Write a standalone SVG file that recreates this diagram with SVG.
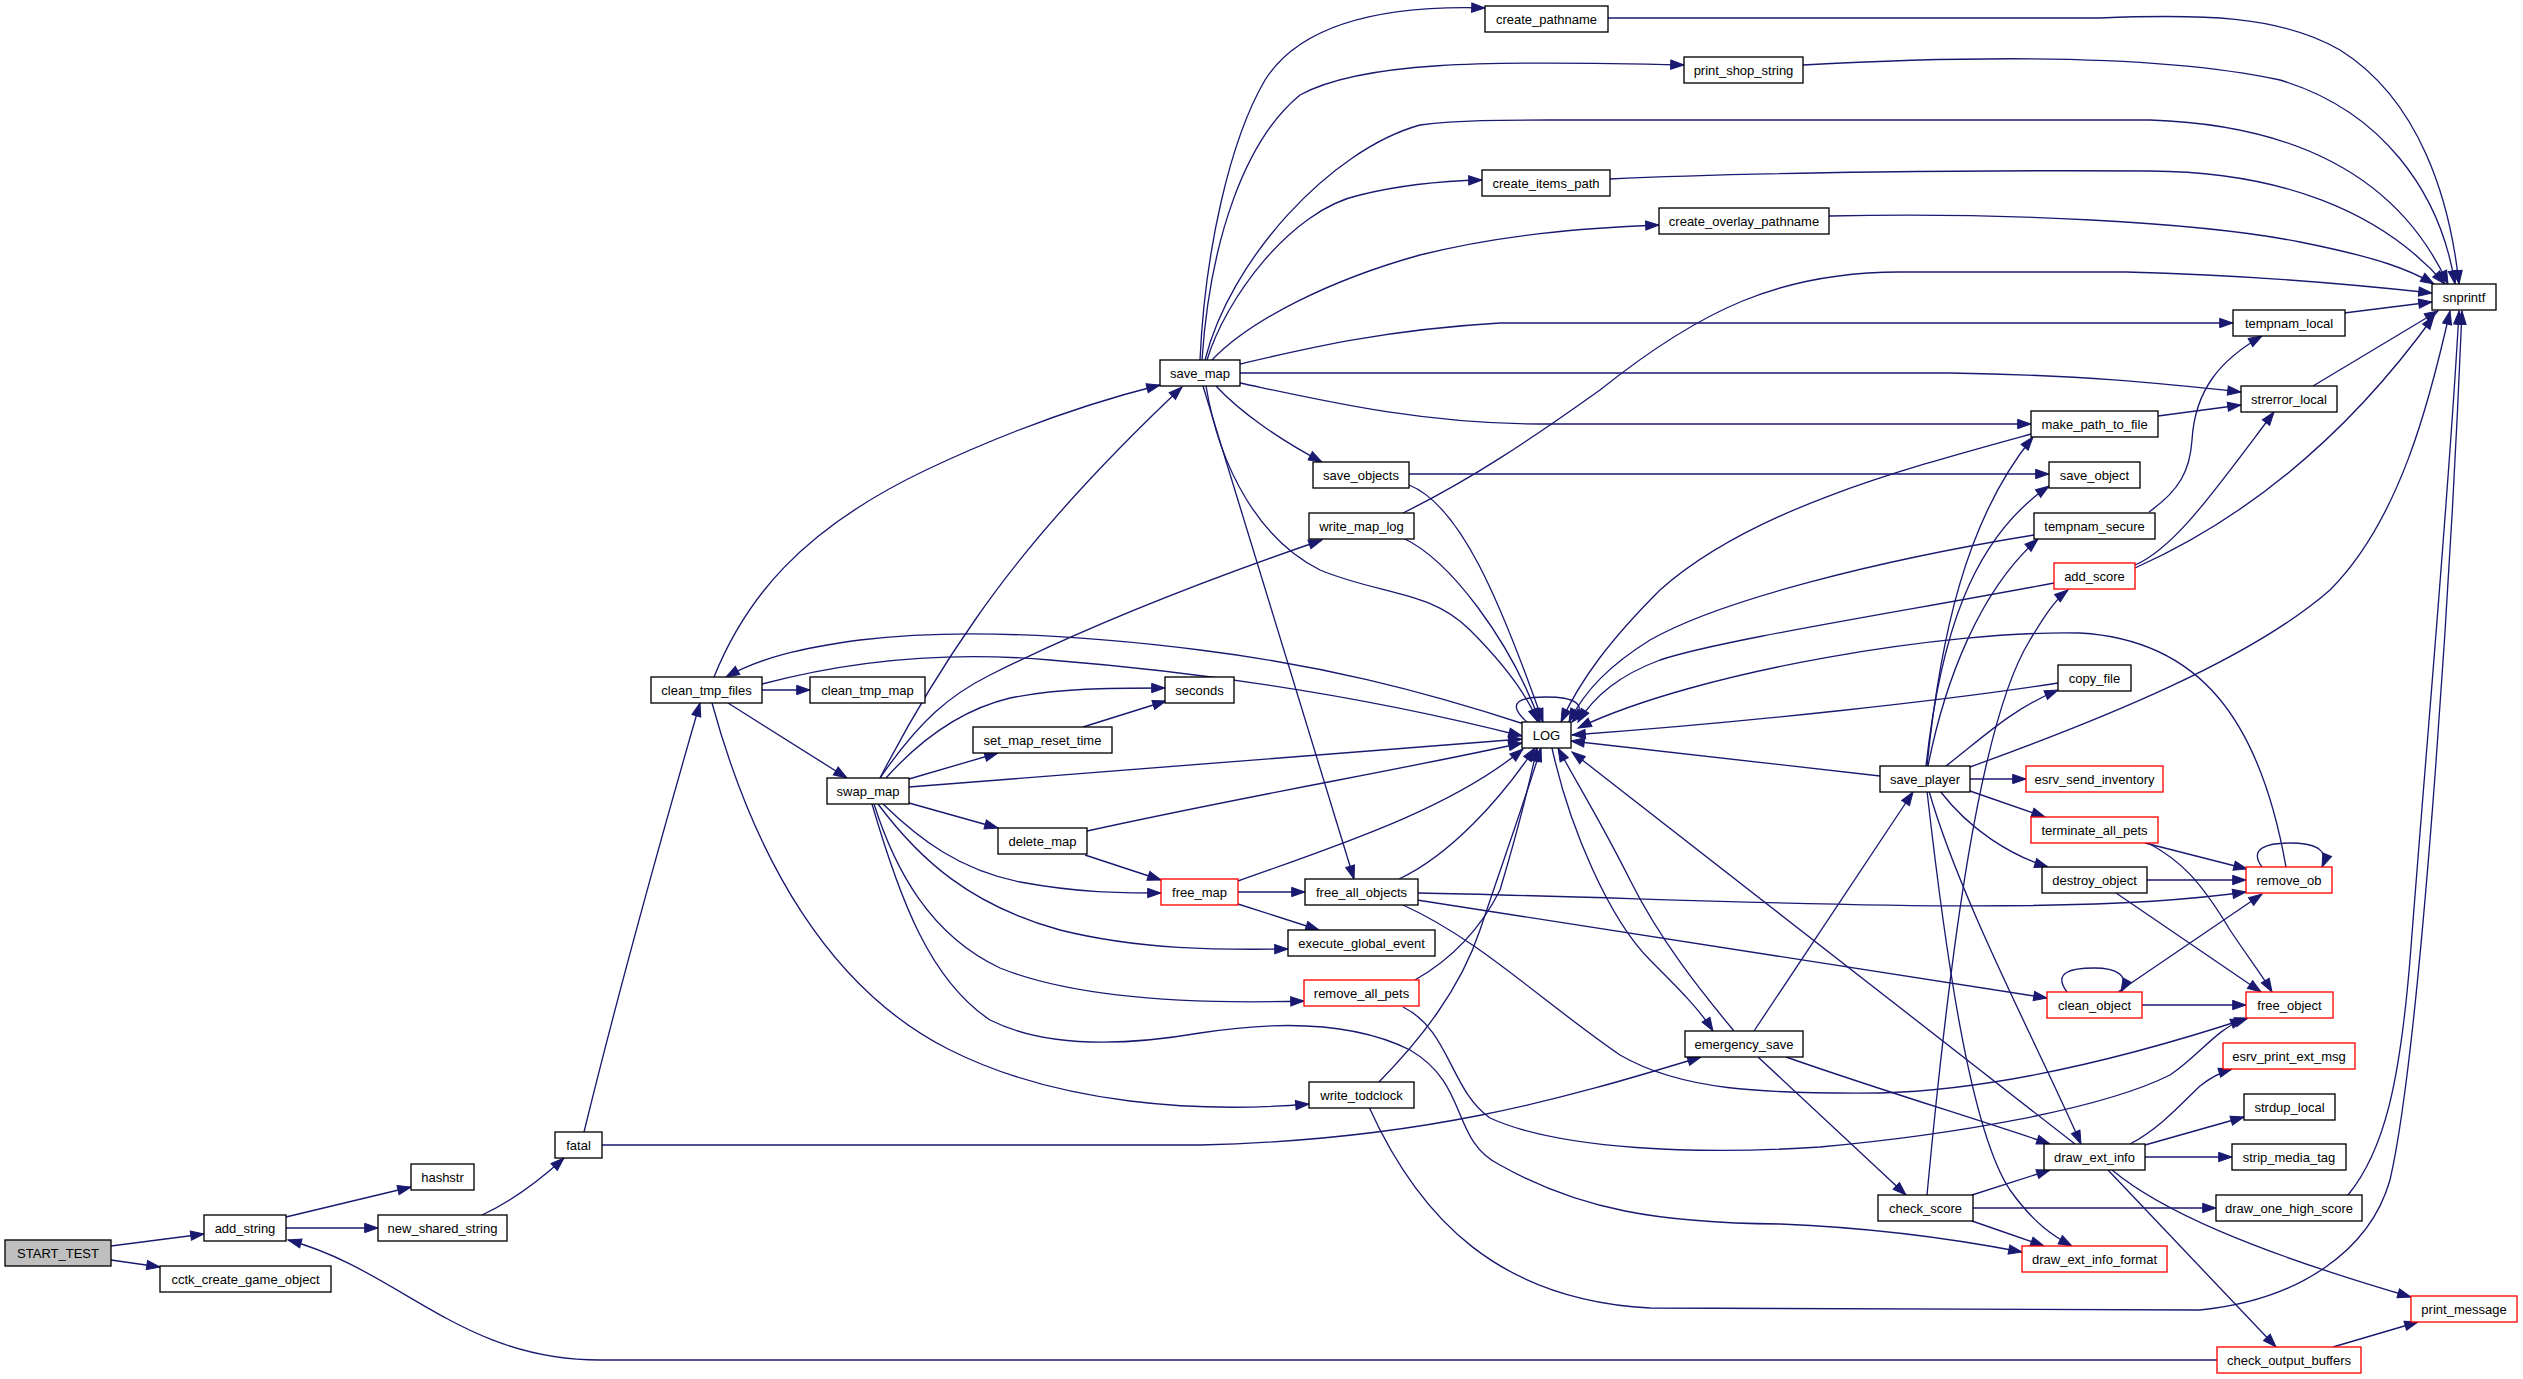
<svg xmlns="http://www.w3.org/2000/svg" width="2523" height="1379" viewBox="0 0 2523 1379">
<defs>
<marker id="ah" markerUnits="userSpaceOnUse" markerWidth="14" markerHeight="10" refX="13.3" refY="4.65" orient="auto" overflow="visible">
<path d="M0,0 L13.3,4.65 L0,9.3 z" fill="#191970" stroke="#191970" stroke-width="1"/>
</marker>
</defs>
<style>
.n rect{fill:#ffffff;stroke:#000000;stroke-width:1.33}
.r rect{fill:#ffffff;stroke:#ff0000;stroke-width:1.33}
.root rect{fill:#bfbfbf;stroke:#000000;stroke-width:1.33}
text{font-family:"Liberation Sans",Arial,Helvetica,sans-serif;font-size:13px;fill:#000000;text-anchor:middle}
#edges path{fill:none;stroke:#191970;stroke-width:1.33;marker-end:url(#ah)}
</style>
<rect width="2523" height="1379" fill="#ffffff"/>
<g id="edges">
<path d="M111,1246 L204,1234"/>
<path d="M111,1260 L160,1267"/>
<path d="M286,1217 L411,1187"/>
<path d="M286,1228 L378,1228"/>
<path d="M482,1215 C510,1202 540,1180 564,1158"/>
<path d="M2217,1360 L600,1360 C460,1360 400,1270 288,1240"/>
<path d="M584,1132 C620,985 672,800 700,703"/>
<path d="M602,1145 L1200,1145 C1420,1140 1560,1100 1701,1057"/>
<path d="M762,690 L810,690"/>
<path d="M714,677 C745,600 800,530 926,470 C1000,435 1080,405 1160,385"/>
<path d="M728,703 L847,778"/>
<path d="M762,684 C860,658 960,652 1050,660 C1250,676 1400,705 1522,736"/>
<path d="M1524,724 C1420,690 1320,665 1200,650 C1080,635 960,628 860,640 C800,648 760,658 726,677"/>
<path d="M712,703 C755,860 830,990 950,1050 C1060,1105 1200,1113 1309,1104"/>
<path d="M880,778 C910,720 940,670 975,620 C1030,540 1110,455 1182,387"/>
<path d="M880,778 C920,720 950,695 990,675 C1100,620 1220,575 1322,540"/>
<path d="M886,778 C920,740 960,710 1010,698 C1060,688 1110,688 1165,688"/>
<path d="M909,779 L998,753"/>
<path d="M1083,727 L1166,701"/>
<path d="M909,787 L1522,739"/>
<path d="M909,803 L998,828"/>
<path d="M883,804 C920,840 960,870 1020,882 C1080,893 1120,893 1161,893"/>
<path d="M878,804 C920,860 970,905 1060,930 C1140,950 1220,950 1288,949"/>
<path d="M874,804 C895,870 930,935 1000,968 C1080,1000 1200,1004 1304,1001"/>
<path d="M872,804 C900,900 930,980 990,1020 C1050,1050 1130,1045 1200,1033 C1270,1022 1350,1020 1410,1050 C1470,1085 1450,1140 1500,1165 C1580,1210 1660,1223 1780,1224 C1880,1228 1960,1240 2022,1252"/>
<path d="M1087,831 C1250,795 1400,770 1522,743"/>
<path d="M1085,855 L1161,880"/>
<path d="M1238,881 C1330,848 1450,810 1523,749"/>
<path d="M1238,892 L1305,892"/>
<path d="M1238,904 L1319,930"/>
<path d="M1200,360 C1205,250 1230,140 1265,80 C1300,25 1380,5 1485,8"/>
<path d="M1202,360 C1210,240 1245,140 1300,95 C1360,62 1480,60 1684,65"/>
<path d="M1205,360 C1230,260 1330,150 1420,125 C1460,120 1500,120 1550,120 L2150,120 C2300,125 2400,180 2448,284"/>
<path d="M1207,360 C1225,300 1290,210 1360,195 C1400,185 1440,181 1482,180"/>
<path d="M1212,360 C1250,320 1330,280 1420,255 C1500,235 1580,228 1659,225"/>
<path d="M1240,364 C1300,350 1380,330 1500,323 L2233,323"/>
<path d="M1240,373 L1950,373 C2080,375 2160,383 2241,392"/>
<path d="M1240,383 C1320,400 1420,424 1540,424 L2031,424"/>
<path d="M1216,386 C1240,412 1280,440 1322,462"/>
<path d="M1206,386 C1220,470 1260,540 1320,570 C1380,595 1430,590 1470,630 C1500,660 1525,690 1538,722"/>
<path d="M1203,386 L1354,879"/>
<path d="M1409,474 L2049,474"/>
<path d="M1409,485 C1460,505 1500,600 1543,722"/>
<path d="M1403,538 C1450,560 1510,640 1540,722"/>
<path d="M1403,513 C1470,480 1530,440 1600,390 C1700,310 1780,272 1900,272 L2126,272 C2250,275 2350,284 2432,293"/>
<path d="M1527,722 C1505,702 1520,697 1546,697 C1572,697 1590,703 1572,722"/>
<path d="M1399,879 C1450,855 1500,800 1535,748"/>
<path d="M1415,980 C1450,960 1480,930 1500,890 C1515,840 1528,790 1537,748"/>
<path d="M1379,1082 C1420,1040 1460,990 1480,930 C1500,870 1525,800 1541,748"/>
<path d="M1552,748 C1570,830 1610,920 1650,960 C1680,990 1700,1010 1713,1031"/>
<path d="M1734,1031 C1700,990 1660,940 1630,880 C1600,820 1575,780 1558,748"/>
<path d="M1754,1031 L1913,792"/>
<path d="M1786,1057 C1880,1090 1980,1120 2050,1144"/>
<path d="M1758,1057 L1906,1195"/>
<path d="M1880,776 L1571,741"/>
<path d="M1927,766 C1940,640 1965,520 2033,437"/>
<path d="M1926,766 C1940,640 1970,540 2049,486"/>
<path d="M1928,766 C1945,680 1980,590 2038,539"/>
<path d="M1970,767 C2100,720 2250,660 2330,590 C2400,520 2430,400 2450,311"/>
<path d="M1946,766 C1980,740 2010,710 2058,690"/>
<path d="M1970,779 L2026,779"/>
<path d="M1970,791 L2045,817"/>
<path d="M1940,791 C1970,830 2010,855 2048,867"/>
<path d="M1929,791 C1960,900 2040,1050 2081,1144"/>
<path d="M1927,791 C1945,950 1970,1130 2010,1190 C2035,1225 2055,1237 2072,1246"/>
<path d="M1927,1195 C1950,950 1980,720 2030,640 C2045,615 2055,600 2068,590"/>
<path d="M1972,1195 L2050,1170"/>
<path d="M1973,1208 L2216,1208"/>
<path d="M1972,1221 L2044,1246"/>
<path d="M2075,1144 L1572,752"/>
<path d="M2130,1144 C2160,1128 2180,1105 2200,1086 C2210,1078 2222,1072 2232,1069"/>
<path d="M2145,1145 L2244,1117"/>
<path d="M2145,1157 L2232,1157"/>
<path d="M2112,1170 C2160,1210 2250,1250 2411,1297"/>
<path d="M2108,1170 L2276,1347"/>
<path d="M2333,1347 L2418,1322"/>
<path d="M2348,1195 C2385,1150 2400,1080 2410,960 C2430,700 2450,480 2459,311"/>
<path d="M1369,1107 C1420,1220 1500,1300 1650,1308 L2200,1310 C2300,1300 2370,1250 2390,1180 C2420,1050 2450,600 2462,311"/>
<path d="M2054,583 C1900,612 1720,640 1660,660 C1620,675 1595,695 1578,722"/>
<path d="M2135,565 C2175,548 2215,490 2274,412"/>
<path d="M2135,568 C2220,530 2330,460 2434,316"/>
<path d="M2344,313 L2432,302"/>
<path d="M2313,386 L2438,311"/>
<path d="M2158,416 L2241,405"/>
<path d="M2031,434 C1900,470 1750,510 1660,590 C1610,640 1580,680 1561,722"/>
<path d="M2034,535 C1880,560 1720,600 1650,640 C1610,665 1585,690 1569,722"/>
<path d="M2149,512 C2180,490 2190,470 2192,440 C2195,390 2220,360 2262,336"/>
<path d="M2058,683 C1950,700 1750,722 1572,735"/>
<path d="M2286,867 C2260,720 2200,640 2080,633 C1950,630 1700,670 1578,728"/>
<path d="M2262,867 C2248,848 2268,843 2290,843 C2312,843 2330,848 2322,867"/>
<path d="M2145,843 L2247,869"/>
<path d="M2148,843 C2180,860 2200,880 2230,930 C2250,960 2262,975 2272,992"/>
<path d="M2147,880 L2246,880"/>
<path d="M2116,893 L2261,992"/>
<path d="M2141,1005 L2246,1005"/>
<path d="M2118,992 L2262,894"/>
<path d="M2067,992 C2052,972 2072,968 2094,968 C2116,968 2130,975 2121,992"/>
<path d="M1418,893 C1700,898 2050,920 2246,892"/>
<path d="M1417,900 L2047,998"/>
<path d="M1403,905 C1480,940 1540,1000 1620,1055 C1680,1090 1760,1094 1880,1093 C1990,1090 2120,1060 2248,1018"/>
<path d="M1403,1007 C1450,1030 1450,1090 1490,1118 C1560,1150 1700,1155 1820,1147 C1950,1135 2100,1110 2170,1075 C2200,1055 2215,1030 2244,1019"/>
<path d="M1608,18 L2100,18 C2200,14 2280,15 2340,50 C2420,100 2450,200 2459,284"/>
<path d="M1803,65 C1950,57 2150,52 2280,80 C2380,110 2440,190 2455,284"/>
<path d="M1610,179 C1750,172 2000,170 2150,171 C2280,172 2380,210 2445,284"/>
<path d="M1829,216 C2000,212 2200,222 2300,242 C2380,258 2410,270 2434,284"/>
</g>
<g id="node_START_TEST" class="root"><rect x="5" y="1240" width="106" height="26"/><text x="58" y="1257.5">START_TEST</text></g>
<g id="node_add_string" class="n"><rect x="204" y="1215" width="82" height="26"/><text x="245" y="1232.5">add_string</text></g>
<g id="node_cctk_create_game_object" class="n"><rect x="160" y="1266" width="171" height="26"/><text x="245.5" y="1283.5">cctk_create_game_object</text></g>
<g id="node_hashstr" class="n"><rect x="411" y="1164" width="63" height="26"/><text x="442.5" y="1181.5">hashstr</text></g>
<g id="node_new_shared_string" class="n"><rect x="378" y="1215" width="129" height="26"/><text x="442.5" y="1232.5">new_shared_string</text></g>
<g id="node_fatal" class="n"><rect x="555" y="1132" width="47" height="26"/><text x="578.5" y="1149.5">fatal</text></g>
<g id="node_clean_tmp_files" class="n"><rect x="651" y="677" width="111" height="26"/><text x="706.5" y="694.5">clean_tmp_files</text></g>
<g id="node_clean_tmp_map" class="n"><rect x="810" y="677" width="115" height="26"/><text x="867.5" y="694.5">clean_tmp_map</text></g>
<g id="node_swap_map" class="n"><rect x="827" y="778" width="82" height="26"/><text x="868" y="795.5">swap_map</text></g>
<g id="node_save_map" class="n"><rect x="1160" y="360" width="80" height="26"/><text x="1200" y="377.5">save_map</text></g>
<g id="node_seconds" class="n"><rect x="1165" y="677" width="69" height="26"/><text x="1199.5" y="694.5">seconds</text></g>
<g id="node_set_map_reset_time" class="n"><rect x="973" y="727" width="139" height="26"/><text x="1042.5" y="744.5">set_map_reset_time</text></g>
<g id="node_delete_map" class="n"><rect x="998" y="828" width="89" height="26"/><text x="1042.5" y="845.5">delete_map</text></g>
<g id="node_free_map" class="r"><rect x="1161" y="879" width="77" height="26"/><text x="1199.5" y="896.5">free_map</text></g>
<g id="node_save_objects" class="n"><rect x="1313" y="462" width="96" height="26"/><text x="1361" y="479.5">save_objects</text></g>
<g id="node_write_map_log" class="n"><rect x="1309" y="513" width="105" height="26"/><text x="1361.5" y="530.5">write_map_log</text></g>
<g id="node_free_all_objects" class="n"><rect x="1305" y="879" width="113" height="26"/><text x="1361.5" y="896.5">free_all_objects</text></g>
<g id="node_execute_global_event" class="n"><rect x="1288" y="930" width="147" height="26"/><text x="1361.5" y="947.5">execute_global_event</text></g>
<g id="node_remove_all_pets" class="r"><rect x="1304" y="980" width="115" height="26"/><text x="1361.5" y="997.5">remove_all_pets</text></g>
<g id="node_write_todclock" class="n"><rect x="1309" y="1082" width="105" height="26"/><text x="1361.5" y="1099.5">write_todclock</text></g>
<g id="node_create_pathname" class="n"><rect x="1485" y="6" width="123" height="26"/><text x="1546.5" y="23.5">create_pathname</text></g>
<g id="node_create_items_path" class="n"><rect x="1482" y="170" width="128" height="26"/><text x="1546" y="187.5">create_items_path</text></g>
<g id="node_LOG" class="n"><rect x="1522" y="722" width="49" height="26"/><text x="1546.5" y="739.5">LOG</text></g>
<g id="node_print_shop_string" class="n"><rect x="1684" y="57" width="119" height="26"/><text x="1743.5" y="74.5">print_shop_string</text></g>
<g id="node_create_overlay_pathname" class="n"><rect x="1659" y="208" width="170" height="26"/><text x="1744" y="225.5">create_overlay_pathname</text></g>
<g id="node_emergency_save" class="n"><rect x="1685" y="1031" width="118" height="26"/><text x="1744" y="1048.5">emergency_save</text></g>
<g id="node_save_player" class="n"><rect x="1880" y="766" width="90" height="26"/><text x="1925" y="783.5">save_player</text></g>
<g id="node_check_score" class="n"><rect x="1878" y="1195" width="95" height="26"/><text x="1925.5" y="1212.5">check_score</text></g>
<g id="node_make_path_to_file" class="n"><rect x="2031" y="411" width="127" height="26"/><text x="2094.5" y="428.5">make_path_to_file</text></g>
<g id="node_save_object" class="n"><rect x="2049" y="462" width="91" height="26"/><text x="2094.5" y="479.5">save_object</text></g>
<g id="node_tempnam_secure" class="n"><rect x="2034" y="513" width="121" height="26"/><text x="2094.5" y="530.5">tempnam_secure</text></g>
<g id="node_add_score" class="r"><rect x="2054" y="563" width="81" height="26"/><text x="2094.5" y="580.5">add_score</text></g>
<g id="node_copy_file" class="n"><rect x="2058" y="665" width="73" height="26"/><text x="2094.5" y="682.5">copy_file</text></g>
<g id="node_esrv_send_inventory" class="r"><rect x="2026" y="766" width="137" height="26"/><text x="2094.5" y="783.5">esrv_send_inventory</text></g>
<g id="node_terminate_all_pets" class="r"><rect x="2031" y="817" width="127" height="26"/><text x="2094.5" y="834.5">terminate_all_pets</text></g>
<g id="node_destroy_object" class="n"><rect x="2042" y="867" width="105" height="26"/><text x="2094.5" y="884.5">destroy_object</text></g>
<g id="node_clean_object" class="r"><rect x="2047" y="992" width="95" height="26"/><text x="2094.5" y="1009.5">clean_object</text></g>
<g id="node_draw_ext_info" class="n"><rect x="2044" y="1144" width="101" height="26"/><text x="2094.5" y="1161.5">draw_ext_info</text></g>
<g id="node_draw_ext_info_format" class="r"><rect x="2022" y="1246" width="145" height="26"/><text x="2094.5" y="1263.5">draw_ext_info_format</text></g>
<g id="node_tempnam_local" class="n"><rect x="2233" y="310" width="112" height="26"/><text x="2289" y="327.5">tempnam_local</text></g>
<g id="node_strerror_local" class="n"><rect x="2241" y="386" width="96" height="26"/><text x="2289" y="403.5">strerror_local</text></g>
<g id="node_remove_ob" class="r"><rect x="2246" y="867" width="86" height="26"/><text x="2289" y="884.5">remove_ob</text></g>
<g id="node_free_object" class="r"><rect x="2246" y="992" width="87" height="26"/><text x="2289.5" y="1009.5">free_object</text></g>
<g id="node_esrv_print_ext_msg" class="r"><rect x="2223" y="1043" width="132" height="26"/><text x="2289" y="1060.5">esrv_print_ext_msg</text></g>
<g id="node_strdup_local" class="n"><rect x="2244" y="1094" width="91" height="26"/><text x="2289.5" y="1111.5">strdup_local</text></g>
<g id="node_strip_media_tag" class="n"><rect x="2232" y="1144" width="114" height="26"/><text x="2289" y="1161.5">strip_media_tag</text></g>
<g id="node_draw_one_high_score" class="n"><rect x="2216" y="1195" width="146" height="26"/><text x="2289" y="1212.5">draw_one_high_score</text></g>
<g id="node_check_output_buffers" class="r"><rect x="2217" y="1347" width="144" height="26"/><text x="2289" y="1364.5">check_output_buffers</text></g>
<g id="node_snprintf" class="n"><rect x="2432" y="284" width="64" height="26"/><text x="2464" y="301.5">snprintf</text></g>
<g id="node_print_message" class="r"><rect x="2411" y="1296" width="106" height="26"/><text x="2464" y="1313.5">print_message</text></g>
</svg>
